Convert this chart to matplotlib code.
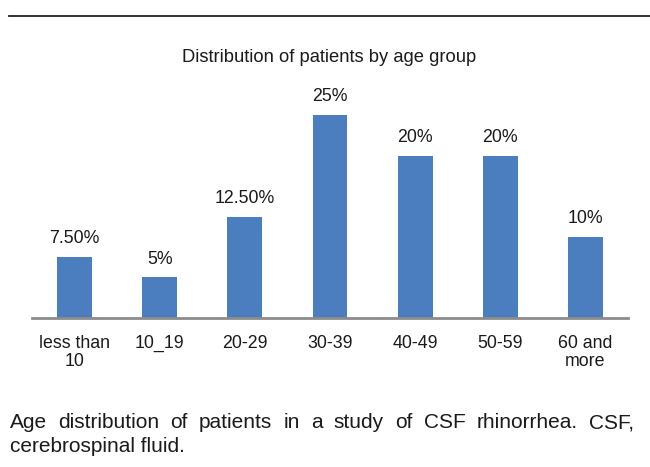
import matplotlib
matplotlib.use("Agg")
import matplotlib.pyplot as plt
from matplotlib.lines import Line2D

plt.rcParams['font.family'] = ['Liberation Sans', 'DejaVu Sans']

categories = ["less than\n10", "10_19", "20-29", "30-39", "40-49", "50-59", "60 and\nmore"]
values = [7.5, 5, 12.5, 25, 20, 20, 10]
value_labels = ["7.50%", "5%", "12.50%", "25%", "20%", "20%", "10%"]
title = "Distribution of patients by age group"
caption_line1 = "Age distribution of patients in a study of CSF rhinorrhea. CSF,"
caption_line2 = "cerebrospinal fluid."

W, H = 650, 467
fig = plt.figure(figsize=(W/100, H/100), dpi=100)

# top rule
fig.add_artist(Line2D([9/W, 1.0], [1-16/H, 1-16/H], color="#222222", lw=1.3))

ax = fig.add_axes([32/W, (H-318)/H, 596/W, 243.6/H])
x = list(range(len(categories)))
ax.bar(x, values, width=0.41, color="#4a7ebf")
ax.set_xlim(-0.5, 6.5)
ax.set_ylim(0, 30)
for s in ["top", "right", "left"]:
    ax.spines[s].set_visible(False)
ax.spines["bottom"].set_color("#8c8c8c")
ax.spines["bottom"].set_linewidth(2)
ax.set_yticks([])
ax.set_xticks(x)
ax.set_xticklabels(categories, fontsize=12.8, linespacing=1.1, color="#1a1a1a")
ax.tick_params(axis="x", length=0, pad=12)
for xi, v, lab in zip(x, values, value_labels):
    ax.annotate(lab, (xi, v), xytext=(0, 7), textcoords="offset points",
                ha="center", va="bottom", fontsize=12.8, color="#1a1a1a")

fig.text(329/W, 1-58/H, title, ha="center", va="center", fontsize=13.2, color="#1a1a1a")

# caption: justified first line
fig.canvas.draw()
renderer = fig.canvas.get_renderer()
words = caption_line1.split(" ")
fs = 15.0
left, right = 10, 634
y1 = 1-423/H
widths = []
for w in words:
    t = fig.text(0, 0, w, fontsize=fs)
    widths.append(t.get_window_extent(renderer).width)
    t.remove()
gap = (right-left-sum(widths))/(len(words)-1)
xp = left
for w, wd in zip(words, widths):
    fig.text(xp/W, y1, w, fontsize=fs, ha="left", va="center", color="#1a1a1a")
    xp += wd + gap
fig.text(left/W, 1-446/H, caption_line2, fontsize=fs, ha="left", va="center", color="#1a1a1a")

fig.savefig("out.png", dpi=100)
